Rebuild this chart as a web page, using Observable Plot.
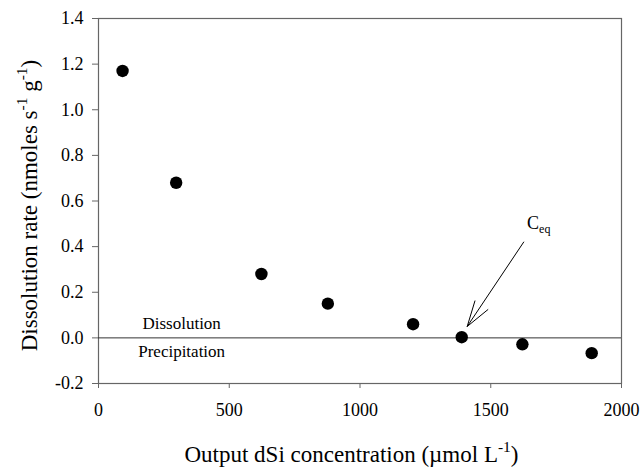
<!DOCTYPE html>
<html>
<head>
<meta charset="utf-8">
<script src="https://cdn.jsdelivr.net/npm/d3@7"></script>
<script src="https://cdn.jsdelivr.net/npm/@observablehq/plot@0.6"></script>
<style>
  html, body { margin: 0; padding: 0; background: #fff; }
  #chart { width: 641px; height: 467px; }
  #chart svg, #chart svg text, #chart svg tspan {
    font-family: "Liberation Serif", "Tinos", "Times New Roman", "DejaVu Serif", serif !important;
  }
</style>
</head>
<body>
<div id="chart"></div>
<script>
// Data
const concentration = [92, 297, 623, 877, 1203, 1389, 1621, 1886];   // µmol L-1
const dissolutionRate = [1.17, 0.68, 0.28, 0.15, 0.06, 0.003, -0.028, -0.067]; // nmoles s-1 g-1
const xTicks = [0, 500, 1000, 1500, 2000];
const yTicks = [-0.2, 0, 0.2, 0.4, 0.6, 0.8, 1.0, 1.2, 1.4];
// Annotations (data coordinates)
const regionLabels = ["Dissolution", "Precipitation"];
const regionLabelX = [318, 318];
const regionLabelY = [0.065, -0.062];
const ceqLabel = "C";
const ceqSub = "eq";
const ceqX = 1639;
const ceqY = 0.501;
const arrowFrom = {x: 1626, y: 0.42};
const arrowTo = {x: 1410, y: 0.05};

const points = concentration.map((c, i) => ({c, r: dissolutionRate[i]}));
const labels = regionLabels.map((t, i) => ({t, x: regionLabelX[i], y: regionLabelY[i]}));

const font = "'Liberation Serif', 'Tinos', 'Times New Roman', 'DejaVu Serif', serif";

const chart = Plot.plot({
  width: 641,
  height: 467,
  marginLeft: 98,
  marginRight: 20,
  marginTop: 18,
  marginBottom: 84,
  style: {fontSize: "18px", color: "black", background: "white"},
  x: {domain: [0, 2000]},
  y: {domain: [-0.2, 1.4]},
  marks: [
    Plot.axisX({ticks: xTicks, tickSize: 5, tickPadding: 15, label: null, stroke: "#666", fontSize: 18, tickFormat: d => String(d)}),
    Plot.axisY({ticks: yTicks, tickSize: 6, tickPadding: 9, label: null, stroke: "#666", fontSize: 18, tickFormat: d => d.toFixed(1)}),
    Plot.frame({stroke: "#666", strokeWidth: 1.2}),
    Plot.ruleY([0], {stroke: "#333", strokeWidth: 1}),
    Plot.text(labels, {x: "x", y: "y", text: "t", fontSize: 17, textAnchor: "middle", fill: "black"}),
    Plot.arrow([{x1: arrowFrom.x, y1: arrowFrom.y, x2: arrowTo.x, y2: arrowTo.y}], {
      x1: "x1", y1: "y1", x2: "x2", y2: "y2",
      stroke: "black", strokeWidth: 1, headAngle: 34, headLength: 40
    }),
    Plot.text([{t: ceqLabel, x: ceqX, y: ceqY}], {x: "x", y: "y", text: "t", fontSize: 18, textAnchor: "start", fill: "black", className: "ceq"}),
    Plot.dot(points, {x: "c", y: "r", r: 6.2, fill: "black", stroke: "none"})
  ]
});

document.getElementById("chart").appendChild(chart);

const svg = d3.select(chart);
svg.selectAll("text").style("font-family", font);

// subscript "eq"
svg.select(".ceq text").append("tspan").attr("font-size", 12).attr("dy", "0.28em").text(ceqSub);

// X axis title with superscript
const xt = svg.append("text")
  .attr("x", 351.5).attr("y", 462)
  .attr("text-anchor", "middle")
  .style("font-family", font).attr("font-size", 23).attr("fill", "black");
xt.append("tspan").text("Output dSi concentration (\u00B5mol L");
xt.append("tspan").attr("font-size", 15.5).attr("dy", -10).text("-1");
xt.append("tspan").attr("dy", 10).text(")");

// Y axis title with superscripts
const yt = svg.append("text")
  .attr("transform", "translate(37,205.5) rotate(-90)")
  .attr("text-anchor", "middle")
  .style("font-family", font).attr("font-size", 23).attr("fill", "black");
yt.append("tspan").text("Dissolution rate (nmoles s");
yt.append("tspan").attr("font-size", 15.5).attr("dy", -10).text("-1");
yt.append("tspan").attr("dy", 10).text(" g");
yt.append("tspan").attr("font-size", 15.5).attr("dy", -10).text("-1");
yt.append("tspan").attr("dy", 10).text(")");
</script>
</body>
</html>
